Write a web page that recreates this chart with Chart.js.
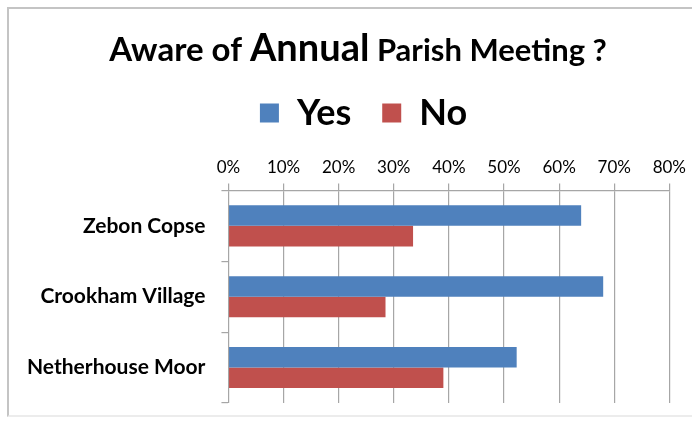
<!DOCTYPE html>
<html>
<head>
<meta charset="utf-8">
<script src="https://cdn.jsdelivr.net/npm/chart.js@4"></script>
<style>
  html, body { margin: 0; padding: 0; background: #fff; }
  #wrap { position: relative; width: 692px; height: 422px; overflow: hidden; }
  #frame { position: absolute; left: 7px; top: 7px; width: 720px; height: 406px;
           border-left: 2px solid #c4c4c4; border-top: 2px solid #c4c4c4;
           border-bottom: 2px solid #ececec; pointer-events: none; }
  canvas { position: absolute; left: 0; top: 0; }
</style>
</head>
<body>
<div id="wrap">
  <canvas id="chart" width="692" height="422"></canvas>
  <div id="frame"></div>
</div>
<script>
const categories = ['Zebon Copse', 'Crookham Village', 'Netherhouse Moor'];
const yesValues = [64, 68, 52.3];
const noValues = [33.5, 28.5, 39];
const seriesNames = ['Yes', 'No'];

// title has three font sizes, so draw it by hand
const titleParts = [
  { text: 'Aware of ', size: 33 },
  { text: 'Annual', size: 38 },
  { text: ' Parish Meeting ?', size: 31 }
];

const titlePlugin = {
  id: 'mixedTitle',
  afterLayout(chart) {
    // legend sits a bit right of centre in the original
    chart.legend.left += 23;
    chart.legend.right += 23;
  },
  afterDraw(chart) {
    const ctx = chart.ctx;
    ctx.save();
    ctx.fillStyle = '#000';
    ctx.textBaseline = 'alphabetic';
    let total = 0;
    titleParts.forEach(p => {
      ctx.font = 'bold ' + p.size + 'px Lato';
      p.w = ctx.measureText(p.text).width;
      total += p.w;
    });
    let x = 358 - total / 2;
    titleParts.forEach(p => {
      ctx.font = 'bold ' + p.size + 'px Lato';
      ctx.fillText(p.text, x, 61);
      x += p.w;
    });
    ctx.restore();
  }
};

const ctx = document.getElementById('chart').getContext('2d');
new Chart(ctx, {
  type: 'bar',
  data: {
    labels: categories,
    datasets: [
      { label: seriesNames[0], data: yesValues, backgroundColor: '#4F81BD' },
      { label: seriesNames[1], data: noValues, backgroundColor: '#C0504D' }
    ]
  },
  options: {
    indexAxis: 'y',
    responsive: false,
    animation: false,
    layout: { padding: { top: 64, left: 11, right: 22, bottom: 19 } },
    datasets: { bar: { barPercentage: 1, categoryPercentage: 0.58 } },
    plugins: {
      tooltip: { enabled: false },
      title: { display: false },
      legend: {
        position: 'top',
        labels: {
          boxWidth: 19,
          boxHeight: 19,
          color: '#000',
          padding: 31,
          font: { family: 'Lato', size: 36, weight: 'bold' }
        }
      }
    },
    scales: {
      x: {
        position: 'top',
        min: 0,
        max: 80,
        // extra room between legend and percentage labels
        afterFit: scale => { scale.height += 10; },
        ticks: {
          stepSize: 10,
          color: '#000',
          padding: 6,
          font: { family: 'Lato', size: 17 },
          callback: v => v + '%'
        },
        grid: { color: '#a6a6a6', lineWidth: 1.2, tickLength: 7 },
        border: { display: true, color: '#a6a6a6', width: 1.2 }
      },
      y: {
        // drop the half-label padding so the axis reaches the bottom
        afterFit: scale => { scale.paddingTop = 0; scale.paddingBottom = 0; },
        ticks: {
          color: '#000',
          padding: 16,
          font: { family: 'Lato', size: 21, weight: 'bold' }
        },
        grid: { drawOnChartArea: false, offset: true, color: '#a6a6a6', lineWidth: 1.2, tickLength: 7 },
        border: { display: false }
      }
    }
  },
  plugins: [titlePlugin]
});
</script>
</body>
</html>
